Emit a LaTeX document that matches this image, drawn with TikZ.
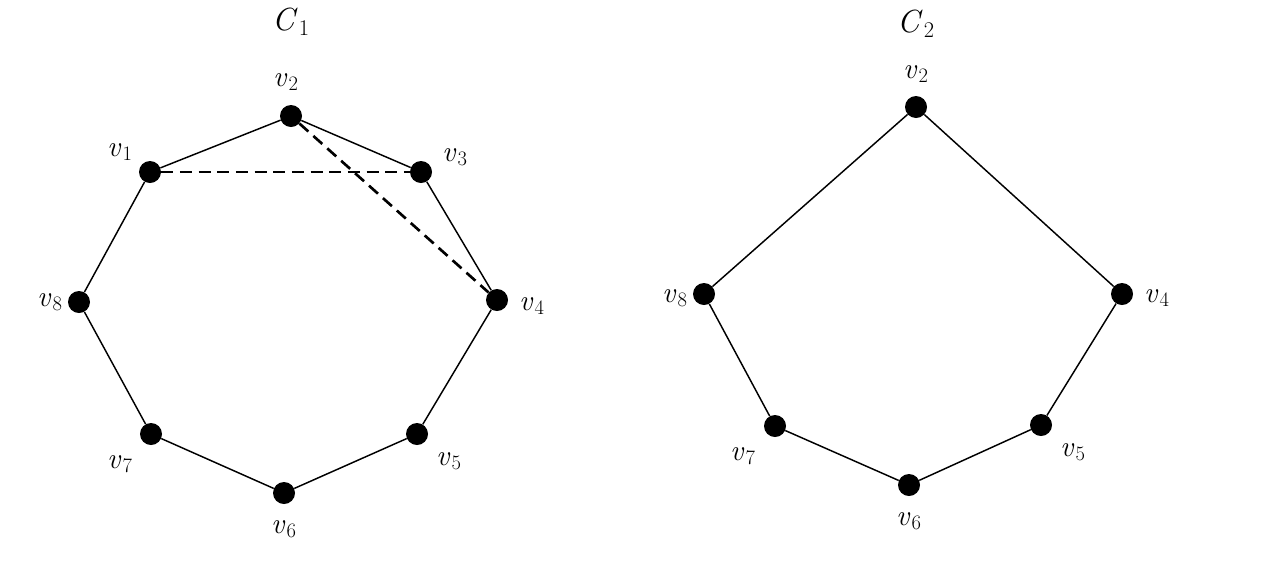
\documentclass[tikz,border=0pt]{standalone}
\newcommand{\vl}[1]{\textit{v}\kern1pt\textsubscript{#1}}
\newcommand{\cl}[1]{\textit{C}\kern1pt\textsubscript{#1}}
\begin{document}
\begin{tikzpicture}[x=0.75pt,y=-0.75pt,
  vtx/.style={circle,fill=black,inner sep=0pt,minimum size=16.5pt},
  lbl/.style={font=\fontsize{22}{26}\selectfont},
  ttl/.style={font=\fontsize{24}{28}\selectfont},
  edge/.style={line width=1.1pt},
  dedge/.style={line width=2pt,dash pattern=on 9pt off 5pt}]
\useasboundingbox (0,0) rectangle (1280,565);
% C1
\node[ttl] (t1) at (291,22) {\cl{1}};
\node[vtx] (a1) at (150,172) {};
\node[vtx] (a2) at (291,116) {};
\node[vtx] (a3) at (421,172) {};
\node[vtx] (a4) at (497,300) {};
\node[vtx] (a5) at (417,434) {};
\node[vtx] (a6) at (284,493) {};
\node[vtx] (a7) at (151,434) {};
\node[vtx] (a8) at (79,302) {};
\draw[edge] (a1)--(a2)--(a3)--(a4)--(a5)--(a6)--(a7)--(a8)--(a1);
\draw[dedge] (a1)--(a3);
\draw[dedge] (a2)--(a4);
\node[lbl] (la1) at (120,152) {\vl{1}};
\node[lbl] (la2) at (286,82) {\vl{2}};
\node[lbl] (la3) at (455,157) {\vl{3}};
\node[lbl] (la4) at (532,306) {\vl{4}};
\node[lbl] (la5) at (449,461) {\vl{5}};
\node[lbl] (la6) at (284,529) {\vl{6}};
\node[lbl] (la7) at (120,464) {\vl{7}};
\node[lbl] (la8) at (50,302) {\vl{8}};
% C2
\node[ttl] (t2) at (916,24) {\cl{2}};
\node[vtx] (b2) at (916,107) {};
\node[vtx] (b4) at (1122,294) {};
\node[vtx] (b5) at (1041,425) {};
\node[vtx] (b6) at (909,485) {};
\node[vtx] (b7) at (775,426) {};
\node[vtx] (b8) at (704,294) {};
\draw[edge] (b2)--(b4)--(b5)--(b6)--(b7)--(b8)--(b2);
\node[lbl] (lb2) at (916,74) {\vl{2}};
\node[lbl] (lb4) at (1157,298) {\vl{4}};
\node[lbl] (lb5) at (1073,452) {\vl{5}};
\node[lbl] (lb6) at (909,521) {\vl{6}};
\node[lbl] (lb7) at (743,456) {\vl{7}};
\node[lbl] (lb8) at (675,298) {\vl{8}};
\end{tikzpicture}
\end{document}
